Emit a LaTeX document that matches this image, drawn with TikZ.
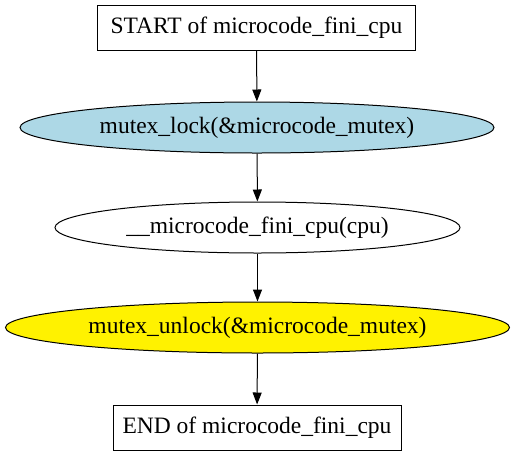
\documentclass[tikz,border=0pt]{standalone}
\usepackage{fontspec}
\setmainfont{Liberation Serif}
\usetikzlibrary{shapes.geometric,arrows.meta}
\definecolor{lightblue}{RGB}{173,216,230}
\tikzset{
  x=1pt,y=1pt,
  boxnode/.style={draw=black,line width=1pt,rectangle,minimum width=#1,minimum height=45pt,inner sep=0pt,font=\fontsize{23.5}{26}\selectfont},
  ellnode/.style={draw=black,line width=1pt,ellipse,minimum width=#1,minimum height=51pt,inner sep=0pt,font=\fontsize{23.5}{26}\selectfont},
  flow/.style={line width=1pt,-{Triangle[length=12pt,width=9pt]}}
}
\begin{document}
\begin{tikzpicture}
\useasboundingbox (0,0) rectangle (515,-459);
\node[boxnode=318pt] (start) at (256.5,-27.5) {START of microcode\_fini\_cpu};
\node[ellnode=474pt,fill=lightblue] (lock) at (257,-127.5) {mutex\_lock(\&microcode\_mutex)};
\node[ellnode=405pt,fill=white] (fini) at (257.5,-227.5) {\_\_microcode\_fini\_cpu(cpu)};
\node[ellnode=504pt,fill=yellow] (unlock) at (257.5,-327.5) {mutex\_unlock(\&microcode\_mutex)};
\node[boxnode=288pt] (end) at (257,-427.5) {END of microcode\_fini\_cpu};
\draw[flow] (start) -- (lock);
\draw[flow] (lock) -- (fini);
\draw[flow] (fini) -- (unlock);
\draw[flow] (unlock) -- (end);
\end{tikzpicture}
\end{document}
